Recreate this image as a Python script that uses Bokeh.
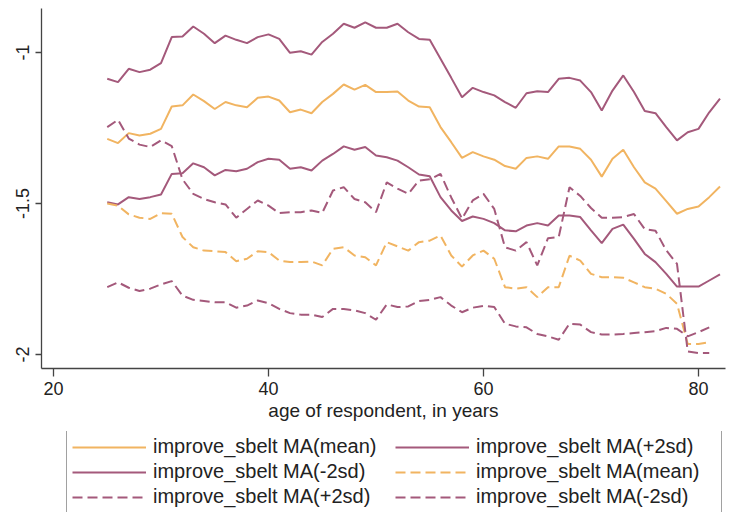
from bokeh.plotting import figure
from bokeh.layouts import column
from bokeh.models import Legend, LegendItem, FixedTicker, CustomJSTickFormatter, Range1d
from bokeh.embed import file_html
from bokeh.resources import INLINE

# ---- data ----
ages = list(range(25, 83))          # solid series: 25..82
ages_dashed = list(range(25, 82))   # dashed series: 25..81

mean_solid = [-1.286, -1.300, -1.267, -1.275, -1.269, -1.253, -1.179, -1.175, -1.139, -1.161,
              -1.187, -1.164, -1.175, -1.181, -1.150, -1.146, -1.159, -1.198, -1.189, -1.201,
              -1.164, -1.137, -1.106, -1.123, -1.107, -1.131, -1.131, -1.129, -1.159, -1.179,
              -1.181, -1.247, -1.297, -1.349, -1.330, -1.344, -1.355, -1.376, -1.385, -1.349,
              -1.344, -1.352, -1.311, -1.311, -1.319, -1.355, -1.411, -1.352, -1.322, -1.380,
              -1.430, -1.451, -1.492, -1.534, -1.518, -1.510, -1.479, -1.444]

plus2_solid = [-1.087, -1.098, -1.054, -1.065, -1.057, -1.035, -0.949, -0.947, -0.914, -0.938,
               -0.969, -0.944, -0.958, -0.969, -0.949, -0.940, -0.955, -1.001, -0.996, -1.007,
               -0.965, -0.938, -0.905, -0.918, -0.900, -0.918, -0.918, -0.905, -0.933, -0.955,
               -0.958, -1.021, -1.084, -1.148, -1.117, -1.131, -1.142, -1.164, -1.183, -1.135,
               -1.128, -1.131, -1.087, -1.084, -1.093, -1.131, -1.192, -1.126, -1.076, -1.131,
               -1.194, -1.201, -1.247, -1.291, -1.264, -1.253, -1.198, -1.153]

minus2_solid = [-1.496, -1.503, -1.479, -1.485, -1.479, -1.470, -1.402, -1.400, -1.367, -1.380,
                -1.407, -1.389, -1.393, -1.385, -1.363, -1.352, -1.355, -1.385, -1.380, -1.391,
                -1.358, -1.336, -1.311, -1.322, -1.313, -1.341, -1.347, -1.358, -1.380, -1.404,
                -1.410, -1.479, -1.523, -1.558, -1.543, -1.551, -1.565, -1.589, -1.592, -1.573,
                -1.565, -1.573, -1.540, -1.540, -1.545, -1.589, -1.631, -1.584, -1.570, -1.617,
                -1.667, -1.694, -1.733, -1.775, -1.775, -1.775, -1.755, -1.735]

mean_dashed = [-1.500, -1.507, -1.536, -1.547, -1.551, -1.532, -1.534, -1.611, -1.645, -1.656,
               -1.658, -1.661, -1.691, -1.683, -1.658, -1.661, -1.689, -1.694, -1.694, -1.692,
               -1.705, -1.650, -1.645, -1.672, -1.678, -1.705, -1.628, -1.642, -1.656, -1.628,
               -1.623, -1.606, -1.672, -1.709, -1.672, -1.656, -1.683, -1.777, -1.782, -1.777,
               -1.810, -1.777, -1.777, -1.673, -1.689, -1.733, -1.744, -1.744, -1.746, -1.761,
               -1.777, -1.782, -1.799, -1.832, -1.965, -1.965, -1.959]

plus2_dashed = [-1.247, -1.223, -1.285, -1.305, -1.313, -1.291, -1.310, -1.420, -1.468, -1.485,
                -1.496, -1.503, -1.547, -1.518, -1.490, -1.507, -1.532, -1.529, -1.529, -1.523,
                -1.531, -1.457, -1.446, -1.485, -1.496, -1.529, -1.430, -1.451, -1.468, -1.424,
                -1.420, -1.402, -1.480, -1.550, -1.490, -1.468, -1.518, -1.645, -1.656, -1.628,
                -1.705, -1.615, -1.611, -1.446, -1.475, -1.515, -1.547, -1.547, -1.545, -1.535,
                -1.585, -1.590, -1.655, -1.700, -1.990, -1.995, -1.995]

minus2_dashed = [-1.777, -1.761, -1.779, -1.790, -1.782, -1.768, -1.757, -1.805, -1.819, -1.823,
                 -1.827, -1.827, -1.845, -1.838, -1.821, -1.830, -1.849, -1.863, -1.868, -1.868,
                 -1.876, -1.849, -1.849, -1.854, -1.863, -1.885, -1.834, -1.843, -1.841, -1.823,
                 -1.819, -1.810, -1.838, -1.860, -1.845, -1.839, -1.843, -1.898, -1.907, -1.910,
                 -1.932, -1.940, -1.951, -1.898, -1.901, -1.926, -1.934, -1.934, -1.932, -1.929,
                 -1.926, -1.923, -1.912, -1.915, -1.940, -1.926, -1.910]

x_ticks = [20, 40, 60, 80]
y_ticks = [-2, -1.5, -1]

labels = ["improve_sbelt MA(mean)", "improve_sbelt MA(+2sd)", "improve_sbelt MA(-2sd)",
          "improve_sbelt MA(mean)", "improve_sbelt MA(+2sd)", "improve_sbelt MA(-2sd)"]

series = [(ages, mean_solid, "orange", None),
          (ages, plus2_solid, "purple", None),
          (ages, minus2_solid, "purple", None),
          (ages_dashed, mean_dashed, "orange", "dash"),
          (ages_dashed, plus2_dashed, "purple", "dash"),
          (ages_dashed, minus2_dashed, "purple", "dash")]

COLORS = {"orange": "#f1b461", "purple": "#a4597b"}
DASH = "10 5"
FONT = "Liberation Sans"


def style(kind_color, kind_dash):
    kw = dict(line_color=COLORS[kind_color], line_width=2)
    if kind_dash:
        kw["line_dash"] = DASH
    return kw


# ---------------- main plot ----------------
p = figure(width=726, height=431, output_backend="svg", toolbar_location=None,
           title=None,
           x_range=Range1d(18.884, 82.512), y_range=Range1d(-2.0464, -0.8543),
           min_border_left=41, min_border_right=1, min_border_top=8, min_border_bottom=63,
           x_axis_label="age of respondent, in years")

p.background_fill_color = "white"
p.border_fill_color = "white"
p.outline_line_color = None
p.xgrid.visible = False
p.ygrid.visible = False

for xs, ys, c, d in series:
    p.line(xs, ys, **style(c, d))

AX = "#444444"
xa = p.xaxis[0]
xa.ticker = FixedTicker(ticks=x_ticks)
xa.axis_line_color = AX
xa.axis_line_width = 1.3
xa.major_tick_line_color = AX
xa.major_tick_line_width = 1.3
xa.major_tick_out = 8
xa.major_tick_in = 0
xa.minor_tick_line_color = None
xa.major_label_standoff = 5
xa.major_label_text_font = FONT
xa.major_label_text_font_size = "18px"
xa.major_label_text_color = "#222222"
xa.axis_label_standoff = 2
xa.axis_label_text_font = FONT
xa.axis_label_text_font_size = "19px"
xa.axis_label_text_font_style = "normal"
xa.axis_label_text_color = "#222222"

ya = p.yaxis[0]
ya.ticker = FixedTicker(ticks=y_ticks)
ya.formatter = CustomJSTickFormatter(code="return tick.toString()")
ya.axis_line_color = AX
ya.axis_line_width = 1.3
ya.major_tick_line_color = AX
ya.major_tick_line_width = 1.3
ya.major_tick_out = 6
ya.major_tick_in = 0
ya.minor_tick_line_color = None
ya.major_label_standoff = 6
ya.major_label_orientation = "vertical"
ya.major_label_text_font = FONT
ya.major_label_text_font_size = "18px"
ya.major_label_text_color = "#222222"

# ---------------- legend strip below (keys out of view, legend only) ----------------
lg = figure(width=726, height=81, output_backend="svg", toolbar_location=None,
            title=None, x_range=Range1d(0, 1), y_range=Range1d(0, 1),
            x_axis_type=None, y_axis_type=None,
            min_border_left=0, min_border_right=0, min_border_top=0, min_border_bottom=0)
lg.outline_line_color = None
lg.background_fill_color = "white"
lg.border_fill_color = "white"
lg.xgrid.visible = False
lg.ygrid.visible = False

keys = [lg.line(xs, ys, **style(c, d)) for xs, ys, c, d in series]

legend = Legend(items=[LegendItem(label=lab, renderers=[k]) for lab, k in zip(labels, keys)],
                orientation="horizontal", ncols=2, location=(25, -2))
legend.margin = 0
legend.padding = 5
legend.spacing = 2
legend.glyph_width = 74
legend.glyph_height = 20
legend.label_standoff = 7
legend.label_width = 240
legend.label_height = 20
legend.label_text_font = FONT
legend.label_text_font_size = "20px"
legend.label_text_color = "#222222"
legend.border_line_color = "#444444"
legend.border_line_width = 1.3
legend.background_fill_color = "white"
legend.background_fill_alpha = 1.0
lg.add_layout(legend, "center")

layout = column(p, lg, spacing=0)
open("out.html", "w").write(file_html(layout, INLINE))
